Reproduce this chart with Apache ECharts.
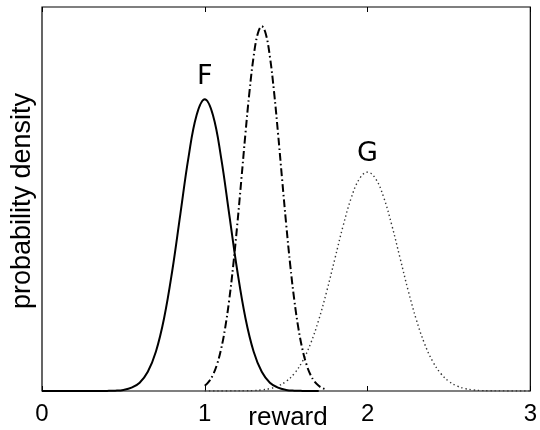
<!DOCTYPE html>
<html>
<head>
<meta charset="utf-8">
<script src="https://cdn.jsdelivr.net/npm/echarts@6/dist/echarts.min.js"></script>
<style>
html,body{margin:0;padding:0;background:#fff;}
#c{width:540px;height:430px;}
</style>
</head>
<body>
<div id="c"></div>
<script>
// x tick labels
const xTicks = [0, 1, 2, 3];

// Curve F (solid)
const fX = [0.00, 0.30, 0.40, 0.45, 0.50, 0.55, 0.60, 0.65, 0.70, 0.75, 0.80, 0.85, 0.90, 0.95, 1.00,
            1.05, 1.10, 1.15, 1.20, 1.25, 1.30, 1.35, 1.40, 1.45, 1.50, 1.55, 1.60, 1.70];
const fY = [0.000, 0.000, 0.001, 0.003, 0.010, 0.030, 0.076, 0.175, 0.360, 0.663, 1.094, 1.613, 2.130, 2.516, 2.660,
            2.516, 2.130, 1.613, 1.094, 0.663, 0.360, 0.175, 0.076, 0.030, 0.010, 0.003, 0.001, 0.000];

// Middle curve (dash-dot)
const mX = [1.000, 1.025, 1.050, 1.075, 1.100, 1.125, 1.150, 1.175, 1.200, 1.225, 1.250, 1.275, 1.300, 1.325, 1.350,
            1.375, 1.400, 1.425, 1.450, 1.475, 1.500, 1.525, 1.550, 1.575, 1.600, 1.625, 1.650, 1.675, 1.700, 1.725, 1.750];
const mY = [0.047, 0.085, 0.146, 0.241, 0.380, 0.573, 0.829, 1.148, 1.522, 1.932, 2.349, 2.734, 3.048, 3.253, 3.324,
            3.253, 3.048, 2.734, 2.349, 1.932, 1.522, 1.148, 0.829, 0.573, 0.380, 0.241, 0.146, 0.085, 0.047, 0.025, 0.013];

// Curve G (dotted)
const gX = [1.00, 1.20, 1.25, 1.30, 1.35, 1.40, 1.45, 1.50, 1.55, 1.60, 1.65, 1.70, 1.75, 1.80, 1.85, 1.90, 1.95, 2.00,
            2.05, 2.10, 2.15, 2.20, 2.25, 2.30, 2.35, 2.40, 2.45, 2.50, 2.55, 2.60, 2.65, 2.70, 2.75, 2.80, 3.00];
const gY = [0.000, 0.001, 0.002, 0.004, 0.010, 0.022, 0.045, 0.088, 0.159, 0.270, 0.432, 0.648, 0.913, 1.210, 1.506, 1.761, 1.934, 1.995,
            1.934, 1.761, 1.506, 1.210, 0.913, 0.648, 0.432, 0.270, 0.159, 0.088, 0.045, 0.022, 0.010, 0.004, 0.002, 0.001, 0.000];

// Curve labels
const labelNames = ['F', 'G'];
const labelX = [1.0, 2.0];
const labelY = [2.86, 2.16];

const xName = 'reward';
const yName = 'probability density';

function zip(xs, ys) { return xs.map((x, i) => [x, ys[i]]); }

const chart = echarts.init(document.getElementById('c'), null, {renderer: 'canvas'});
const font = '"Liberation Sans", Arial, sans-serif';

chart.setOption({
  animation: false,
  backgroundColor: '#fff',
  grid: {left: 42, right: 7, top: 7, bottom: 39, show: true, borderColor: '#000', borderWidth: 1.2, backgroundColor: '#fff'},
  xAxis: [{
    type: 'value', min: 0, max: 3, interval: 1, position: 'bottom',
    axisLine: {show: false},
    axisTick: {show: true, inside: true, length: 5, lineStyle: {color: '#000', width: 1}},
    axisLabel: {show: true, margin: 11, color: '#000', fontSize: 24, fontFamily: 'Liberation Sans',
      formatter: v => String(xTicks[xTicks.indexOf(v)])},
    splitLine: {show: false}
  }, {
    type: 'value', min: 0, max: 3, interval: 1, position: 'top',
    axisLine: {show: false},
    axisTick: {show: true, inside: true, length: 5, lineStyle: {color: '#000', width: 1}},
    axisLabel: {show: false},
    splitLine: {show: false}
  }],
  yAxis: {
    type: 'value', min: 0, max: 3.5,
    axisLine: {show: false}, axisTick: {show: false}, axisLabel: {show: false}, splitLine: {show: false}
  },
  series: [{
    type: 'line', data: zip(fX, fY), showSymbol: false, smooth: 0.4,
    lineStyle: {color: '#000', width: 2, type: 'solid'}, z: 3
  }, {
    type: 'line', data: zip(mX, mY), showSymbol: false, smooth: 0.4,
    lineStyle: {color: '#000', width: 2, type: [8, 3, 1.5, 3]}, z: 2
  }, {
    type: 'line', data: zip(gX, gY), showSymbol: false, smooth: 0.4,
    lineStyle: {color: '#333', width: 1.4, type: [1.4, 2.8]}, z: 1
  }, {
    type: 'scatter', data: zip(labelX, labelY), symbolSize: 0, itemStyle: {opacity: 1},
    label: {show: true, position: 'inside', formatter: p => labelNames[p.dataIndex],
      color: '#000', opacity: 1, fontSize: 27, fontFamily: 'DejaVu Sans', fontWeight: 'normal'},
    silent: true, z: 4
  }],
  graphic: [{
    type: 'text', x: 288, y: 418,
    style: {text: xName, font: '26px ' + font, fill: '#000', textAlign: 'center', textVerticalAlign: 'middle'}
  }, {
    type: 'text', x: 23, y: 201, rotation: Math.PI / 2,
    style: {text: yName, font: '27px ' + font, fill: '#000', textAlign: 'center', textVerticalAlign: 'middle'}
  }]
});
</script>
</body>
</html>
